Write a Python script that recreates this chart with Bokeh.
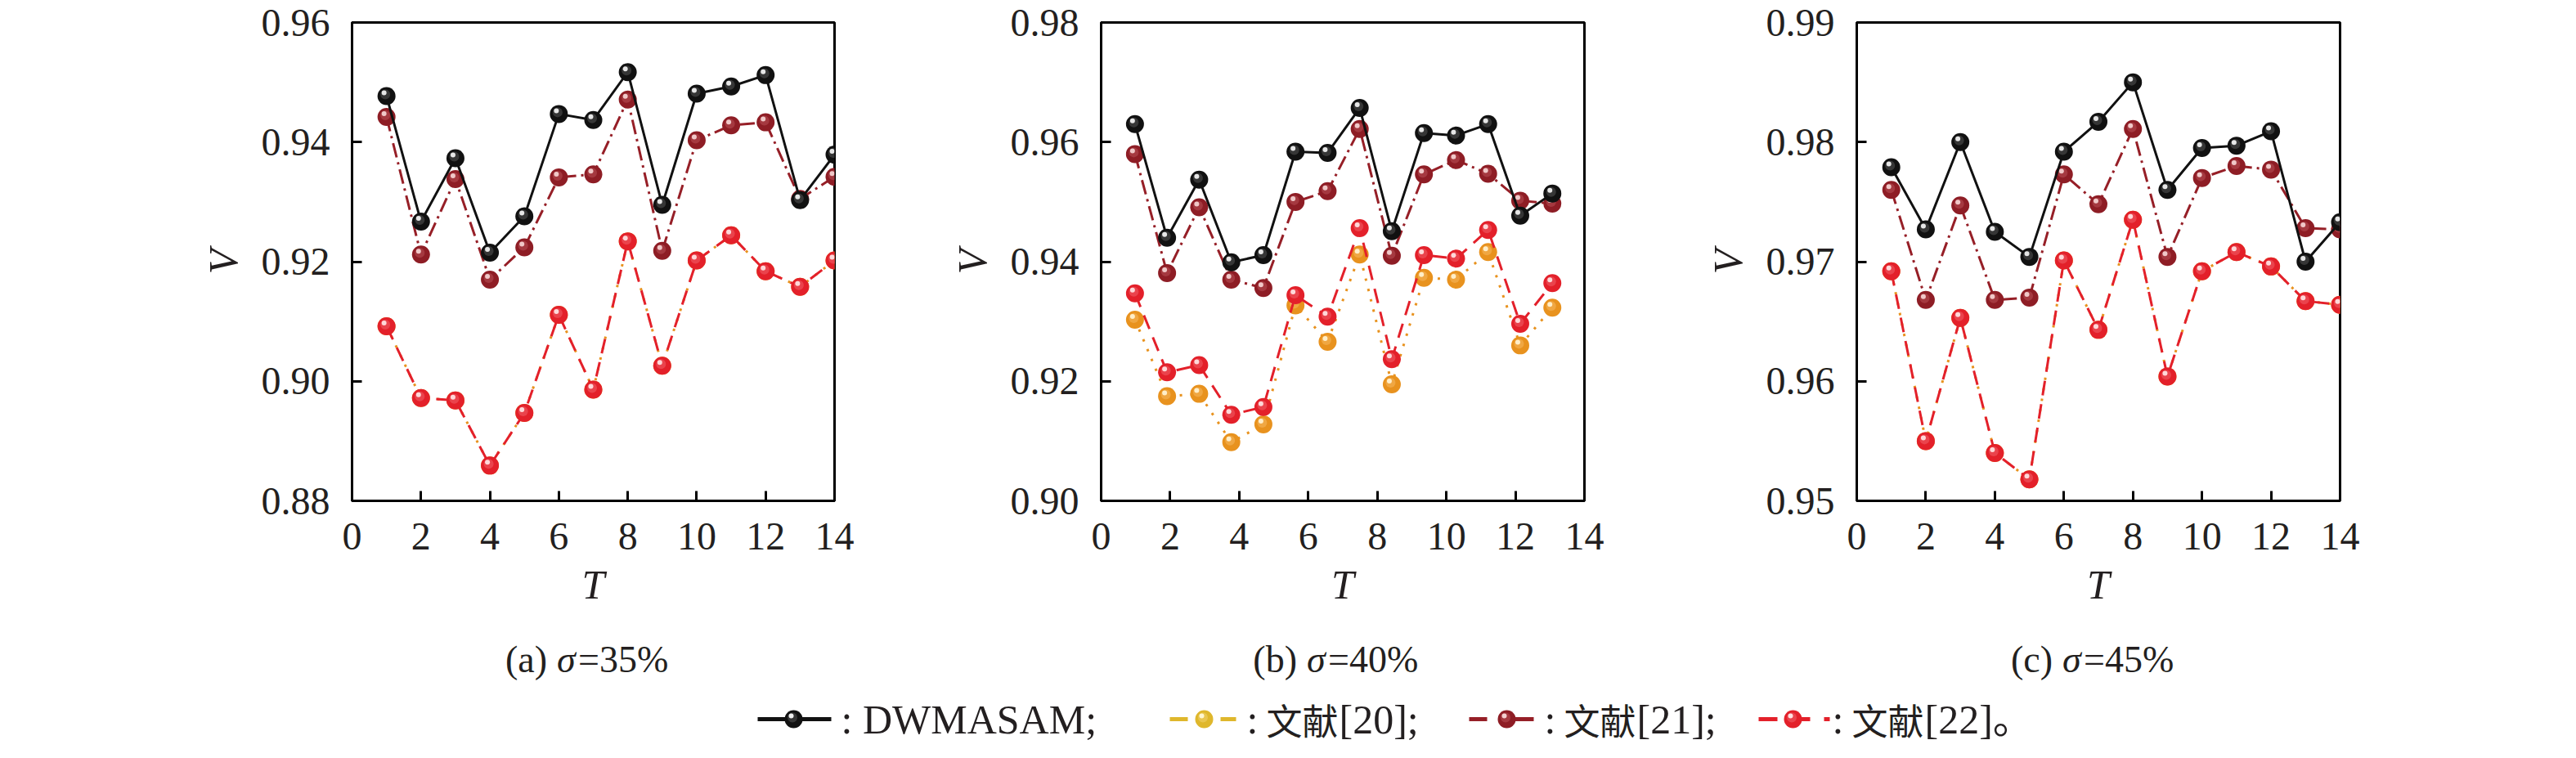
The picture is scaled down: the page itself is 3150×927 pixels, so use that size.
from bokeh.plotting import figure
from bokeh.layouts import column, row
from bokeh.models import Range1d, FixedTicker, ColumnDataSource, NumeralTickFormatter
from bokeh.transform import dodge
from bokeh.core.properties import value
from bokeh.embed import file_html
from bokeh.resources import INLINE

# ---------------- data ----------------
x_ticks = [0, 2, 4, 6, 8, 10, 12, 14]

# (a) sigma = 35%
T_a = [1, 2, 3, 4, 5, 6, 7, 8, 9, 10, 11, 12, 13, 14]
dwmasam_a = [0.9477, 0.9267, 0.9373, 0.9215, 0.9276, 0.9447, 0.9437, 0.9517, 0.9295, 0.9481, 0.9493, 0.9512, 0.9303, 0.9379]
ref21_a = [0.9442, 0.9212, 0.9338, 0.9170, 0.9224, 0.9341, 0.9346, 0.9471, 0.9218, 0.9403, 0.9428, 0.9433, 0.9305, 0.9342]
ref22_a = [0.9092, 0.8972, 0.8968, 0.8859, 0.8947, 0.9111, 0.8986, 0.9234, 0.9026, 0.9202, 0.9244, 0.9184, 0.9158, 0.9202]
ref20_a = [0.9092, 0.8972, 0.8968, 0.8859, 0.8947, 0.9111, 0.8986, 0.9234, 0.9026, 0.9202, 0.9244, 0.9184, 0.9158, 0.9202]
y_ticks_a = [0.88, 0.90, 0.92, 0.94, 0.96]

# (b) sigma = 40%
T_b = [0.98, 1.91, 2.84, 3.77, 4.70, 5.63, 6.56, 7.49, 8.42, 9.35, 10.28, 11.21, 12.14, 13.07]
dwmasam_b = [0.9630, 0.9440, 0.9537, 0.9399, 0.9411, 0.9584, 0.9582, 0.9657, 0.9451, 0.9615, 0.9611, 0.9630, 0.9477, 0.9514]
ref21_b = [0.9580, 0.9381, 0.9491, 0.9370, 0.9356, 0.9500, 0.9518, 0.9622, 0.9410, 0.9546, 0.9570, 0.9547, 0.9502, 0.9497]
ref22_b = [0.9347, 0.9215, 0.9227, 0.9144, 0.9157, 0.9344, 0.9308, 0.9456, 0.9237, 0.9411, 0.9405, 0.9453, 0.9296, 0.9364]
ref20_b = [0.9303, 0.9175, 0.9179, 0.9098, 0.9128, 0.9327, 0.9266, 0.9412, 0.9195, 0.9373, 0.9370, 0.9416, 0.9260, 0.9323]
y_ticks_b = [0.90, 0.92, 0.94, 0.96, 0.98]

# (c) sigma = 45%
T_c = [1, 2, 3, 4, 5, 6, 7, 8, 9, 10, 11, 12, 13, 14]
dwmasam_c = [0.9779, 0.9727, 0.9800, 0.9725, 0.9704, 0.9792, 0.9817, 0.9850, 0.9760, 0.9795, 0.9797, 0.9809, 0.9700, 0.9733]
ref21_c = [0.9760, 0.9668, 0.9747, 0.9668, 0.9670, 0.9773, 0.9748, 0.9811, 0.9704, 0.9770, 0.9780, 0.9777, 0.9728, 0.9727]
ref22_c = [0.9692, 0.9550, 0.9653, 0.9540, 0.9518, 0.9701, 0.9643, 0.9735, 0.9604, 0.9692, 0.9708, 0.9696, 0.9667, 0.9664]
ref20_c = [0.9692, 0.9550, 0.9653, 0.9540, 0.9518, 0.9701, 0.9643, 0.9735, 0.9604, 0.9692, 0.9708, 0.9696, 0.9667, 0.9664]
y_ticks_c = [0.95, 0.96, 0.97, 0.98, 0.99]

captions = [("(a)", "=35%"), ("(b)", "=40%"), ("(c)", "=45%")]
legend_first = ": DWMASAM;"
legend_cjk = "文献"
legend_refs = ["[20];", "[21];", "[22]。"]

# ---------------- styles ----------------
SERIF = "Liberation Serif"
CJK = "Noto Sans CJK SC"
TXT = "#231f20"
STY = {
    "ref20": dict(color="#e8921e", dash="3 10", width=3, fill="#e8921e", mid="#f6b860", hi="#fff1d0"),
    "ref22": dict(color="#e3202a", dash="18 11", width=3, fill="#e3202a", mid="#f06068", hi="#ffe0e0"),
    "ref21": dict(color="#961f27", dash="18 6 3 6", width=3, fill="#8e1d25", mid="#b85058", hi="#f3d0d0"),
    "dw": dict(color="#111111", dash="solid", width=3, fill="#111111", mid="#555555", hi="#f0f0f0"),
}
FRAME_W = 590
FRAME_H = 585
TOP = 27
BOTTOM = 158
ROW_H = TOP + FRAME_H + BOTTOM
MARK = 22


def draw(p, xs, ys, st, ox, oy):
    src = ColumnDataSource(dict(x=xs, y=ys))
    p.line("x", "y", source=src, line_color=st["color"], line_dash=st["dash"], line_width=st["width"])
    p.scatter("x", "y", source=src, size=MARK, fill_color=st["fill"], line_color=None)
    p.scatter(x=dodge("x", ox * 0.5), y=dodge("y", oy * 0.5), source=src, size=12,
              fill_color=st["mid"], fill_alpha=0.55, line_color=None)
    p.scatter(x=dodge("x", ox), y=dodge("y", oy), source=src, size=6,
              fill_color=st["hi"], fill_alpha=0.95, line_color=None)


def panel(width, left, right, xs, d20, d22, d21, dw, yticks):
    y0, y1 = yticks[0], yticks[-1]
    p = figure(width=width, height=ROW_H, x_range=Range1d(0, 14), y_range=Range1d(y0, y1),
               output_backend="svg", toolbar_location=None,
               min_border_left=left, min_border_right=right, min_border_top=TOP,
               min_border_bottom=BOTTOM)
    p.grid.visible = False
    p.outline_line_color = "black"
    p.outline_line_width = 3
    p.outline_line_alpha = 1
    p.background_fill_color = "white"
    p.border_fill_color = "white"
    for ax in (p.xaxis[0], p.yaxis[0]):
        ax.axis_line_width = 3
        ax.axis_line_color = "black"
        ax.major_tick_line_width = 3
        ax.major_tick_line_color = "black"
        ax.major_tick_in = 12
        ax.major_tick_out = 0
        ax.minor_tick_in = 0
        ax.minor_tick_out = 0
        ax.major_label_text_font = SERIF
        ax.major_label_text_font_size = "48px"
        ax.major_label_text_color = TXT
        ax.axis_label_text_font = SERIF
        ax.axis_label_text_font_size = "50px"
        ax.axis_label_text_font_style = "italic"
        ax.axis_label_text_color = TXT
    p.xaxis[0].ticker = FixedTicker(ticks=x_ticks)
    p.xaxis[0].axis_label = "T"
    p.xaxis[0].major_label_standoff = 27
    p.xaxis[0].axis_label_standoff = 12
    p.yaxis[0].ticker = FixedTicker(ticks=yticks)
    p.yaxis[0].formatter = NumeralTickFormatter(format="0.00")
    p.yaxis[0].axis_label = "V"
    p.yaxis[0].major_label_standoff = 27
    p.yaxis[0].axis_label_standoff = 16
    ox = -3.0 * 14 / FRAME_W
    oy = 4.0 * (y1 - y0) / FRAME_H
    draw(p, xs, d20, STY["ref20"], ox, oy)
    draw(p, xs, d22, STY["ref22"], ox, oy)
    draw(p, xs, d21, STY["ref21"], ox, oy)
    draw(p, xs, dw, STY["dw"], ox, oy)
    return p


pa = panel(1150, 430, 130, T_a, ref20_a, ref22_a, ref21_a, dwmasam_a, y_ticks_a)
pb = panel(925, 196, 138, T_b, ref20_b, ref22_b, ref21_b, dwmasam_b, y_ticks_b)
pc = panel(1059, 195, 273, T_c, ref20_c, ref22_c, ref21_c, dwmasam_c, y_ticks_c)

# ---------------- captions + legend (coordinates in reference-page pixels) ----------------
BT_H = 911 - ROW_H
bt = figure(width=3134, height=BT_H, x_range=Range1d(8, 3142), y_range=Range1d(919, 919 - BT_H),
            output_backend="svg", toolbar_location=None, min_border=0,
            x_axis_type=None, y_axis_type=None)
bt.grid.visible = False
bt.outline_line_color = None

centers = [732.5, 1649.5, 2573.5]
cap_y = 814
for (lab, rest), cx in zip(captions, centers):
    sx = cx - 44
    bt.text(x=[sx - 12], y=[cap_y], text=[lab], text_font=value(SERIF), text_font_size="46px",
            text_align="right", text_baseline="middle", text_color=TXT)
    bt.text(x=[sx], y=[cap_y], text=["σ"], text_font=value(SERIF), text_font_size="46px",
            text_font_style="italic", text_align="left", text_baseline="middle", text_color=TXT)
    bt.text(x=[sx + 26], y=[cap_y], text=[rest], text_font=value(SERIF), text_font_size="46px",
            text_align="left", text_baseline="middle", text_color=TXT)

ly = 887
LW = 5
bt.segment(x0=[934], y0=[ly], x1=[1024], y1=[ly], line_color="#111111", line_width=LW)
bt.segment(x0=[1438, 1500], y0=[ly, ly], x1=[1460, 1519], y1=[ly, ly], line_color="#dfb72c", line_width=LW)
bt.segment(x0=[1804, 1850], y0=[ly, ly], x1=[1826, 1883], y1=[ly, ly], line_color="#961f27", line_width=LW)
bt.segment(x0=[2158, 2200, 2238], y0=[ly, ly, ly], x1=[2181, 2221, 2245], y1=[ly, ly, ly],
           line_color="#e3202a", line_width=LW)
leg_marks = [(978, "#111111", "#555555", "#f0f0f0"), (1480, "#dfb72c", "#f0d470", "#fff6d0"),
             (1850, "#8e1d25", "#b85058", "#f3d0d0"), (2200, "#e3202a", "#f06068", "#ffe0e0")]
for mx, f, m, h in leg_marks:
    bt.scatter(x=[mx], y=[ly], size=22, fill_color=f, line_color=None)
    bt.scatter(x=[mx - 1.5], y=[ly - 2], size=12, fill_color=m, fill_alpha=0.55, line_color=None)
    bt.scatter(x=[mx - 3], y=[ly - 4], size=6, fill_color=h, line_color=None)

bt.text(x=[1036], y=[ly], text=[legend_first], text_font=value(SERIF),
        text_font_size="50px", text_align="left", text_baseline="middle", text_color=TXT)
colon_x = [1534, 1898, 2250]
bt.text(x=[c - 2 for c in colon_x], y=[ly] * 3, text=[":"] * 3, text_font=value(SERIF),
        text_font_size="50px", text_align="left", text_baseline="middle", text_color=TXT)
bt.text(x=[c + 22 for c in colon_x], y=[ly] * 3, text=[legend_cjk] * 3, text_font=value(CJK),
        text_font_size="44px", text_align="left", text_baseline="middle", text_color=TXT)
bt.text(x=[c + 111 for c in colon_x], y=[ly] * 3, text=legend_refs,
        text_font=value("Liberation Serif, Noto Sans CJK SC"),
        text_font_size="50px", text_align="left", text_baseline="middle", text_color=TXT)

layout = column(row(pa, pb, pc, spacing=0), bt, spacing=0)
open("out.html", "w").write(file_html(layout, INLINE))
